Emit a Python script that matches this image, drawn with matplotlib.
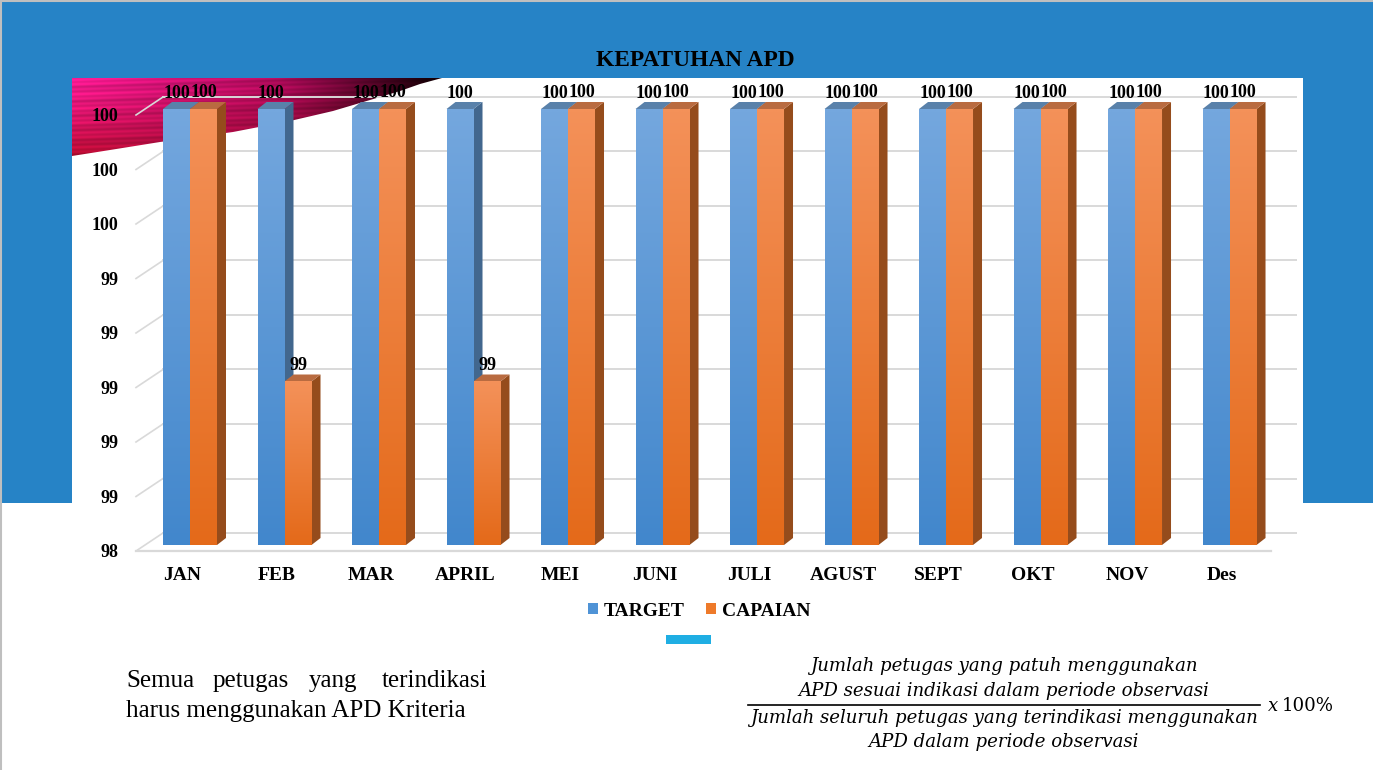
import os
import numpy as np
import matplotlib
matplotlib.use('Agg')
import matplotlib.pyplot as plt
from matplotlib import font_manager as fm
from matplotlib.patches import Polygon, Rectangle, Patch
from matplotlib.transforms import ScaledTranslation

# ---------------- data ----------------
months = ['JAN', 'FEB', 'MAR', 'APRIL', 'MEI', 'JUNI', 'JULI', 'AGUST', 'SEPT', 'OKT', 'NOV', 'Des']
target = [100, 100, 100, 100, 100, 100, 100, 100, 100, 100, 100, 100]
capaian = [100, 99, 100, 99, 100, 100, 100, 100, 100, 100, 100, 100]
yticks = [98.4, 98.6, 98.8, 99.0, 99.2, 99.4, 99.6, 99.8, 100.0]
series_names = ['TARGET', 'CAPAIAN']
title = 'KEPATUHAN APD'

W, H = 1373, 770
DPI = 100
SERIF = 'Liberation Serif'


def font_file(name):
    for f in fm.findSystemFonts():
        if os.path.basename(f).lower() == name.lower():
            return f
    return None


_bold_file = font_file('LiberationSerif-Bold.ttf')
_reg_file = font_file('LiberationSerif-Regular.ttf')


def bold(size):
    if _bold_file:
        return fm.FontProperties(fname=_bold_file, size=size)
    return fm.FontProperties(family=SERIF, weight='bold', size=size)


def regular(size):
    if _reg_file:
        return fm.FontProperties(fname=_reg_file, size=size)
    return fm.FontProperties(family=SERIF, size=size)


fig = plt.figure(figsize=(W / DPI, H / DPI), dpi=DPI)
fig.patch.set_facecolor('white')

# ---------------- slide background (pixel coords) ----------------
bg = fig.add_axes([0, 0, 1, 1], zorder=0)
bg.set_xlim(0, W)
bg.set_ylim(H, 0)
bg.axis('off')
bg.add_patch(Rectangle((0, 0), W, 503, color='#2683C6', lw=0, zorder=0.5))
bg.add_patch(Rectangle((72, 78), 1303 - 72, H - 78, color='white', lw=0, zorder=0.6))
bg.plot([0, W], [0.5, 0.5], color='#BFBFBF', lw=1.5, zorder=0.7)
bg.plot([0.5, 0.5], [0, H], color='#BFBFBF', lw=1.5, zorder=0.7)

# pink swoosh decoration
sx0, sx1, sy0, sy1 = 72, 446, 78, 160
nx, ny = sx1 - sx0, sy1 - sy0
xx = np.linspace(0, 1, nx)[None, :]
yy = np.linspace(0, 1, ny)[:, None]
pink = np.array([0.96, 0.10, 0.56])
mag = np.array([0.70, 0.04, 0.36])
dark = np.array([0.10, 0.0, 0.03])
red = np.array([0.70, 0.04, 0.16])
t = np.clip(xx, 0, 1)
base = np.where((t < 0.55)[..., None],
                pink + (mag - pink) * (t / 0.55)[..., None],
                mag + (dark - mag) * np.clip((t - 0.55) / 0.4, 0, 1)[..., None])
base = np.broadcast_to(base, (ny, nx, 3)).copy()
vmix = (yy ** 1.3)[..., None] * (1 - 0.5 * t)[..., None]
img = base * (1 - vmix) + red * vmix
img = img * (1 - 0.35 * (yy * t)[..., None])
rows = np.arange(ny)[:, None] + 12 * xx
streak = 1 + 0.07 * np.sin(rows * 1.3) + 0.05 * np.sin(rows * 0.47)
img = img * streak[..., None]
curve = [(72, 78), (442, 78), (420, 84), (400, 91), (370, 100), (333, 111),
         (290, 121), (233, 132), (160, 142), (110, 150), (72, 156)]
clip = Polygon(curve, closed=True, facecolor='none', edgecolor='none',
               transform=bg.transData)
bg.add_patch(clip)
im = bg.imshow(np.clip(img, 0, 1), extent=(sx0, sx1, sy1, sy0), origin='upper',
               aspect='auto', interpolation='bilinear', zorder=0.8)
im.set_clip_path(clip)
bg.set_xlim(0, W)
bg.set_ylim(H, 0)

# ---------------- chart axes ----------------
left_px, right_px, bot_px, top_px = 145, 1278, 545, 109
ax = fig.add_axes([left_px / W, (H - bot_px) / H, (right_px - left_px) / W,
                   (bot_px - top_px) / H], zorder=1)
ax.set_facecolor('none')
for s in ax.spines.values():
    s.set_visible(False)
x = np.arange(len(months))
xlim = (-0.4762, 11.513)
ylim = (yticks[0], yticks[-1])
ax.set_xlim(*xlim)
ax.set_ylim(*ylim)
ax.set_autoscale_on(False)

sx = ax.bbox.width / (xlim[1] - xlim[0])   # px per x unit
sy = ax.bbox.height / (ylim[1] - ylim[0])  # px per y unit
bw = 27 / sx
ddx, ddy = 9 / sx, 7 / sy

grid_c = '#D9D9D9'
for v in yticks:
    ax.plot([xlim[0] + 18 / sx, xlim[1] + 18 / sx], [v + 12 / sy, v + 12 / sy],
            color=grid_c, lw=1.4, clip_on=False, zorder=1)
    ax.plot([xlim[0] - 9 / sx, xlim[0] + 18 / sx], [v - 6 / sy, v + 12 / sy],
            color=grid_c, lw=1.2, clip_on=False, zorder=1)
ax.plot([xlim[0] - 9 / sx, xlim[1] - 7 / sx], [ylim[0] - 6 / sy, ylim[0] - 6 / sy],
        color=grid_c, lw=1.6, clip_on=False, zorder=1)


def grad(c_top, c_bot, n=64):
    a = np.array(c_top)[None, :]
    b = np.array(c_bot)[None, :]
    tt = np.linspace(0, 1, n)[:, None]
    return (a * (1 - tt) + b * tt)[:, None, :]


def hexrgb(h):
    h = h.lstrip('#')
    return [int(h[i:i + 2], 16) / 255 for i in (0, 2, 4)]


styles = {
    'TARGET': dict(top=hexrgb('#74A7DE'), bot=hexrgb('#4287CC'),
                   cap='#5981AA', side='#42678E'),
    'CAPAIAN': dict(top=hexrgb('#F49159'), bot=hexrgb('#E46A1A'),
                    cap='#B96B40', side='#954C1C'),
}


def bar3d(x0, v, st, z):
    x1 = x0 + bw
    b = ylim[0]
    ax.add_patch(Polygon([(x1, b), (x1, v), (x1 + ddx, v + ddy), (x1 + ddx, b + ddy)],
                         closed=True, facecolor=st['side'], edgecolor='none',
                         clip_on=False, zorder=z))
    ax.add_patch(Polygon([(x0, v), (x1, v), (x1 + ddx, v + ddy), (x0 + ddx, v + ddy)],
                         closed=True, facecolor=st['cap'], edgecolor='none',
                         clip_on=False, zorder=z))
    ax.imshow(grad(st['top'], st['bot']), extent=(x0, x1, b, v), origin='upper',
              aspect='auto', interpolation='bilinear', clip_on=False, zorder=z + 0.1)


for i in range(len(months)):
    bar3d(x[i] - bw, target[i], styles['TARGET'], 2)
    bar3d(x[i], capaian[i], styles['CAPAIAN'], 3)
for i in range(len(months)):
    ax.annotate(f'{target[i]:.0f}', xy=(x[i] - bw / 2, target[i]), xytext=(0, 11),
                textcoords='offset pixels', ha='center', va='baseline',
                annotation_clip=False, zorder=5, fontproperties=bold(13))
    ax.annotate(f'{capaian[i]:.0f}', xy=(x[i] + bw / 2, capaian[i]), xytext=(0, 11.5),
                textcoords='offset pixels', ha='center', va='baseline',
                annotation_clip=False, zorder=5, fontproperties=bold(13))

ax.set_xlim(*xlim)
ax.set_ylim(*ylim)

# ticks
ax.set_yticks(yticks, [f'{v:.0f}' for v in yticks])
ax.set_xticks(x, months)
ax.tick_params(axis='y', length=0, pad=19.4)
ax.tick_params(axis='x', length=0, pad=15.5)
for lab in ax.get_yticklabels():
    lab.set_fontproperties(bold(13))
    lab.set_transform(lab.get_transform() + ScaledTranslation(0, -6 / DPI, fig.dpi_scale_trans))
for lab in ax.get_xticklabels():
    lab.set_fontproperties(bold(14))
    lab.set_transform(lab.get_transform() + ScaledTranslation(-8 / DPI, 0, fig.dpi_scale_trans))

# title
fig.text(695 / W, 1 - 66 / H, title, ha='center', va='baseline', fontproperties=bold(16.8))

# legend
handles = [Patch(facecolor='#4F93D6', edgecolor='none', label=series_names[0]),
           Patch(facecolor='#EE7A2A', edgecolor='none', label=series_names[1])]
fig.legend(handles=handles, loc='center', bbox_to_anchor=(699 / W, 1 - 611 / H), ncol=2,
           frameon=False, prop=bold(14),
           handlelength=0.52, handleheight=0.52, handletextpad=0.3, columnspacing=1.1,
           borderpad=0)

# cyan accent bar
bg.add_patch(Rectangle((666, 635), 45, 9, color='#1FAEE3', lw=0, zorder=1))

# bottom-left justified text
body = dict(va='baseline', color='black', fontproperties=regular(18), zorder=2)
bg.text(126, 687, 'Semua', ha='left', **body)
bg.text(213, 687, 'petugas', ha='left', **body)
bg.text(309, 687, 'yang', ha='left', **body)
bg.text(487, 687, 'terindikasi', ha='right', **body)
bg.text(126, 717, 'harus menggunakan APD Kriteria', ha='left', **body)

# formula
fcx = 1004
ff = dict(family='DejaVu Serif', style='italic', size=13, ha='center', va='baseline', zorder=2)
l1 = bg.text(fcx, 671, 'Jumlah petugas yang patuh menggunakan', **ff)
l2 = bg.text(fcx, 696, 'APD sesuai indikasi dalam periode observasi', **ff)
l3 = bg.text(fcx, 723, 'Jumlah seluruh petugas yang terindikasi menggunakan', **ff)
l4 = bg.text(fcx, 747, 'APD dalam periode observasi', **ff)
r = fig.canvas.get_renderer()
wcur = l3.get_window_extent(r).width
scale = 510 / wcur
for l in (l1, l2, l3, l4):
    l.set_fontsize(13 * scale)
bg.plot([748, 1260], [705, 705], color='black', lw=1.2, zorder=2)
bg.text(1268, 711, 'x', family='DejaVu Serif', style='italic', size=13 * scale,
        ha='left', va='baseline', zorder=2)
bg.text(1282, 711, '100%', family='DejaVu Serif', size=13 * scale,
        ha='left', va='baseline', zorder=2)

fig.savefig('out.png', dpi=DPI)
